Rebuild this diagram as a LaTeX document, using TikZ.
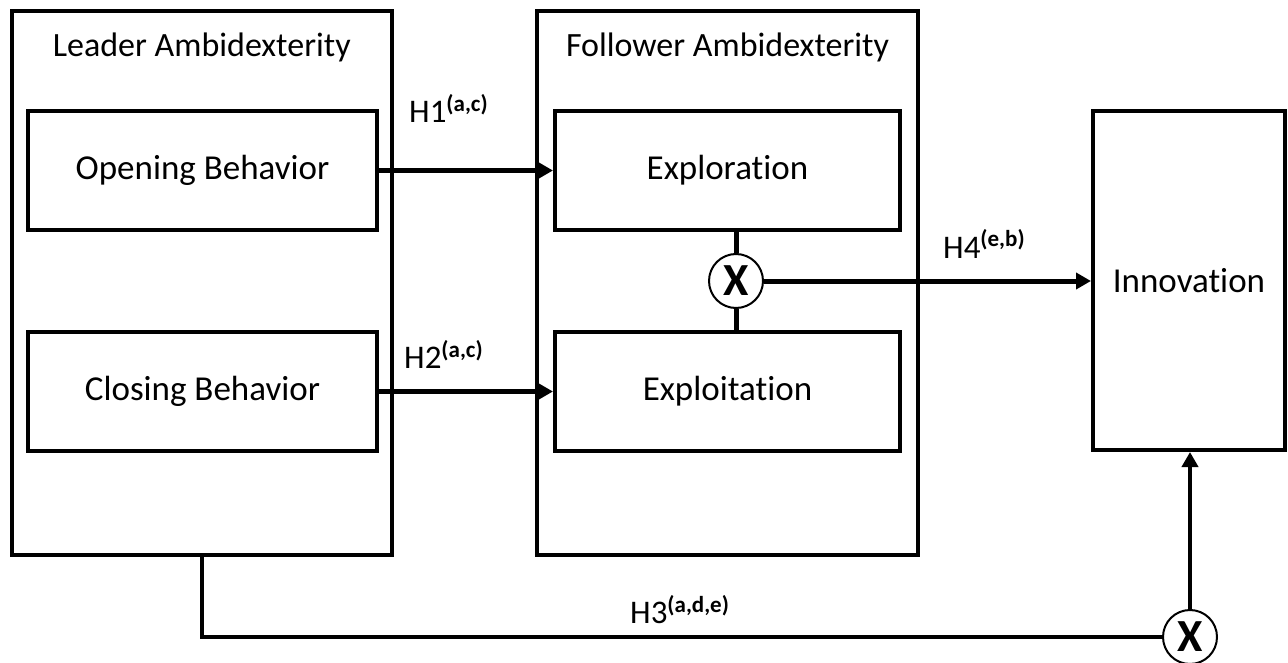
\documentclass[tikz,border=0pt]{standalone}
\usepackage{fontspec}
\setmainfont{Carlito}[Ligatures={NoCommon}]
\usetikzlibrary{arrows.meta}
\newcommand\hsup[1]{\raisebox{11bp}{\fontsize{23bp}{24bp}\selectfont\bfseries #1}}
\begin{document}
\begin{tikzpicture}[x=1bp,y=-1bp,
  box/.style={draw,line width=4bp,inner sep=0pt,font=\fontsize{35bp}{42bp}\selectfont},
  title/.style={inner sep=0pt,font=\fontsize{34bp}{40bp}\selectfont},
  hlabel/.style={inner sep=0pt,anchor=base west,font=\fontsize{33bp}{40bp}\selectfont},
  circ/.style={circle,draw,line width=2bp,fill=white,minimum size=54bp,inner sep=0pt,font=\fontsize{46bp}{46bp}\selectfont\bfseries},
  arr/.style={line width=5bp,-{Triangle[length=15bp,width=16bp]}},
  arrthin/.style={line width=4bp,-{Triangle[length=15bp,width=16bp]}},
  conn/.style={line width=5bp},
  connthin/.style={line width=4bp}
]
\useasboundingbox (0,0) rectangle (1288,663);
% outer boxes
\node[box, minimum width=379.5bp, minimum height=544bp] (leader) at (201.75,283) {};
\node[title, anchor=base] (leadtitle) at (201.75,57) {Leader Ambidexterity};
\node[box, minimum width=381bp, minimum height=544bp] (follower) at (727.5,283) {};
\node[title, anchor=base] (foltitle) at (727.5,57) {Follower Ambidexterity};
% inner boxes
\node[box, minimum width=349bp, minimum height=119bp] (opening) at (202.5,170.5) {Opening Behavior};
\node[box, minimum width=349bp, minimum height=119bp] (closing) at (202.5,391.5) {Closing Behavior};
\node[box, minimum width=345bp, minimum height=119bp] (exploration) at (727.5,170.5) {Exploration};
\node[box, minimum width=345bp, minimum height=119bp] (exploitation) at (727.5,391.5) {Exploitation};
\node[box, minimum width=192bp, minimum height=339bp] (innov) at (1189,280.5) {Innovation};
% moderators
\node[circ] (c1) at (736,281) {X};
\node[circ] (c2) at (1190,637) {X};
% connectors
\draw[arr] (opening.east) -- (opening.east -| exploration.west);
\draw[arr] (closing.east) -- (closing.east -| exploitation.west);
\draw[conn] (exploration.south -| c1.north) -- (c1.north);
\draw[conn] (c1.south) -- (exploitation.north -| c1.south);
\draw[arr] (c1.east) -- (c1.east -| innov.west);
\draw[connthin] (leader.south) |- (c2.west);
\draw[arrthin] (c2.north) -- (c2.north |- innov.south);
% labels
\node[hlabel] (h1) at (409,123) {H1\hsup{(a,c)}};
\node[hlabel] (h2) at (404,368) {H2\hsup{(a,c)}};
\node[hlabel] (h4) at (943,258) {H4\hsup{(e,b)}};
\node[hlabel] (h3) at (630,623) {H3\hsup{(a,d,e)}};
\end{tikzpicture}
\end{document}
